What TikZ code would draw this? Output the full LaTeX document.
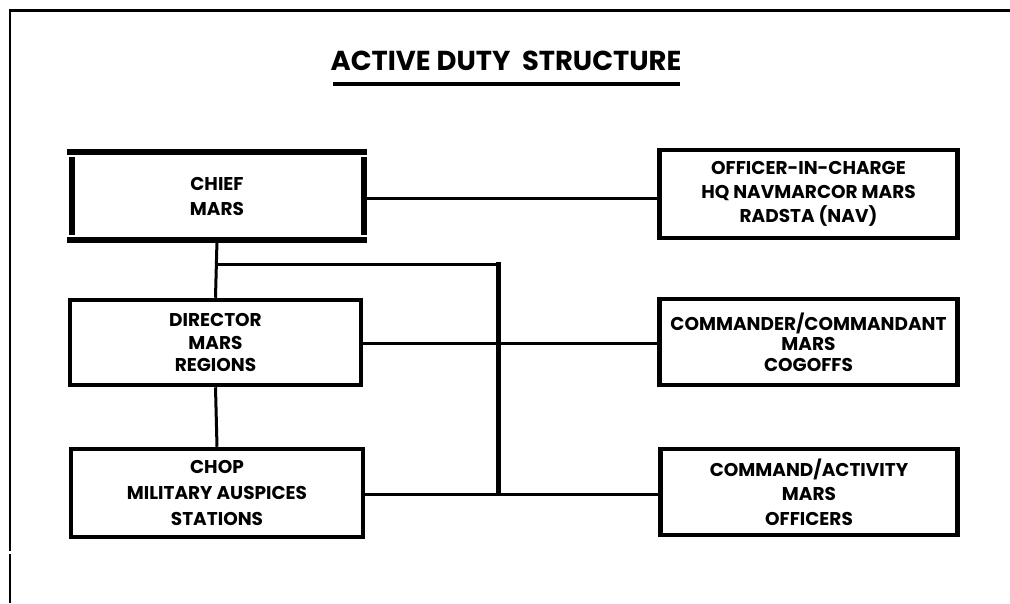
\documentclass[tikz,border=0pt]{standalone}
\usepackage{fontspec}
\setmainfont{Poppins}
\begin{document}
\begin{tikzpicture}[x=1pt,y=-1pt,
  boxtext/.style={align=center,inner sep=0pt},
  orgbox/.style={boxtext,draw=black,line width=4.5pt,minimum width=#1},
  link/.style={line width=3pt},
  frame/.style={line width=2.5pt}]
\useasboundingbox (0,0) rectangle (1010,603);
% frame
\draw[frame,line width=3pt] (9,10) -- (1010,10);
\draw[frame] (10,9) -- (10,551);
\draw[frame] (10,554) -- (10,603);
% title
\node[font=\bfseries\fontsize{27.4}{30}\selectfont,inner sep=0pt] (title) at (506,61) {ACTIVE DUTY\ \ STRUCTURE};
\draw[line width=4pt] (333,84) -- (680,84);
% chief box (open-cornered bars)
\node[boxtext,minimum width=294pt,minimum height=88pt,font=\bfseries\fontsize{18.5}{25}\selectfont] (chief) at (217,196) {CHIEF\\MARS};
\draw[line width=6pt] (67,152) -- (367,152);
\draw[line width=6pt] (67,240) -- (367,240);
\draw[line width=6pt] (71.5,157) -- (71.5,235);
\draw[line width=6pt] (364,157) -- (364,235);
% other boxes
\node[orgbox=291pt,minimum height=85pt,font=\bfseries\fontsize{18.5}{22.5}\selectfont] (dir) at (215.5,342.5) {DIRECTOR\\MARS\\REGIONS};
\node[orgbox=292pt,minimum height=88pt,font=\bfseries\fontsize{18.5}{26}\selectfont] (chop) at (217,493) {CHOP\\MILITARY AUSPICES\\STATIONS};
\node[orgbox=298pt,minimum height=88pt,font=\bfseries\fontsize{18.5}{24}\selectfont] (oic) at (808.5,194) {OFFICER-IN-CHARGE\\HQ NAVMARCOR MARS\\RADSTA (NAV)};
\node[orgbox=298pt,minimum height=86pt,font=\bfseries\fontsize{18.5}{20.5}\selectfont] (cog) at (808.5,342) {COMMANDER/COMMANDANT\\MARS\\COGOFFS};
\node[orgbox=297pt,minimum height=86pt,font=\bfseries\fontsize{18.5}{24.5}\selectfont] (off) at (809,492) {COMMAND/ACTIVITY\\MARS\\OFFICERS};
% connectors
\coordinate (bt) at (498,262);
\coordinate (bb) at (498,495);
\coordinate (jl) at (217,264);
\draw[link] (chief.east |- 0,198) -- (oic.west |- 0,198);
\draw[link] (chief.south) -- (dir.north);
\draw[link] (dir.south) -- (chop.north);
\draw[link] (jl) -- (jl -| bt);
\draw[line width=5pt] (bt) -- (bb);
\draw[link] (dir.east |- 0,343) -- (cog.west |- 0,343);
\draw[link] (chop.east |- 0,494) -- (off.west |- 0,494);
\end{tikzpicture}
\end{document}
